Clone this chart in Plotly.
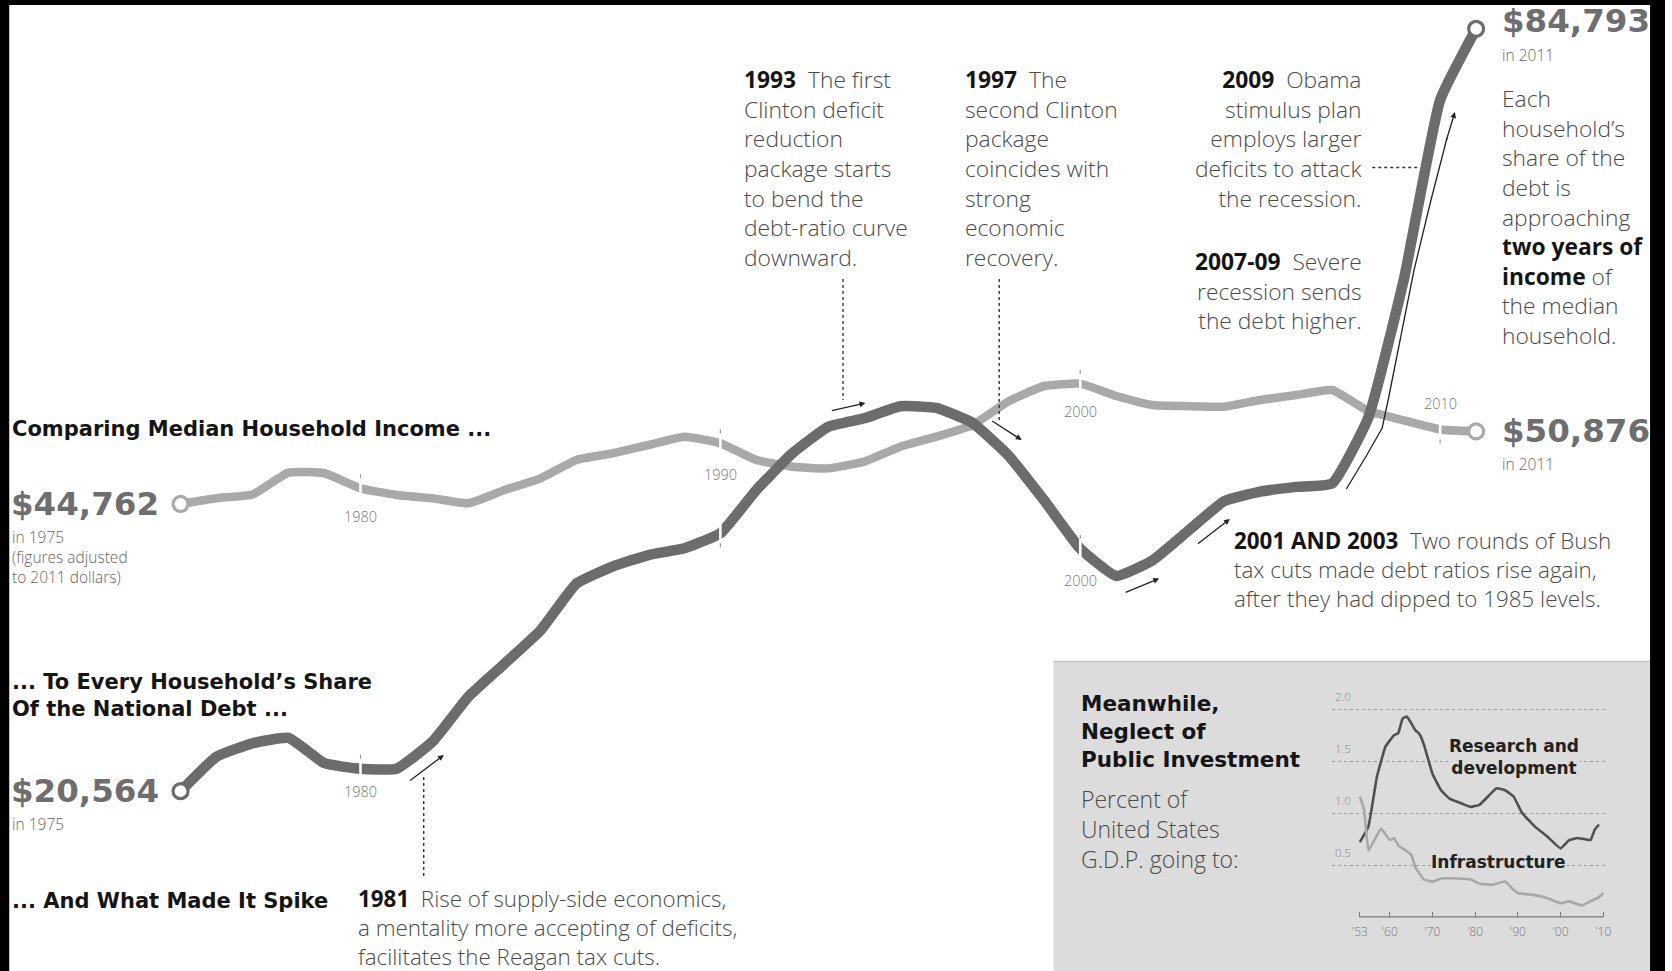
import plotly.graph_objects as go

W, H = 1672, 971

# ---------------------------------------------------------------- data
years = list(range(1975, 2012))
median_income = [44762, 45250, 45560, 47400, 47350, 46080, 45520, 45240, 44820, 45940,
                 46920, 48470, 49030, 49730, 50430, 49870, 48470, 47900, 47760, 48330,
                 49590, 50430, 51410, 53400, 54700, 54900, 53860, 53100, 53000, 52960,
                 53520, 53940, 54360, 52600, 51800, 51040, 50876]
debt_share = [20564, 23470, 24600, 25050, 22920, 22450, 22450, 24740, 28530, 31300,
              34100, 38050, 39480, 40460, 41030, 42290, 45940, 49030, 51270, 51980,
              53000, 52850, 51600, 48850, 45050, 41000, 38700, 40000, 42500, 45000,
              45800, 46200, 46500, 52000, 63800, 78800, 84793]
income_decades = [1980, 1990, 2000, 2010]
debt_decades = [1980, 1990, 2000]

# inset: share of G.D.P.
rd_years = [1953, 1955, 1957, 1959, 1961, 1962, 1963, 1964, 1966, 1967, 1968, 1970,
            1972, 1974, 1977, 1979, 1981, 1983, 1985, 1987, 1989, 1991, 1994, 1997,
            2000, 2002, 2004, 2007, 2008, 2009]
rd_share = [0.72, 0.87, 1.35, 1.64, 1.75, 1.77, 1.91, 1.93, 1.80, 1.76, 1.66, 1.38,
            1.22, 1.14, 1.09, 1.06, 1.08, 1.16, 1.24, 1.22, 1.16, 1.00, 0.87, 0.77,
            0.66, 0.74, 0.76, 0.74, 0.84, 0.89]
infra_years = [1953, 1954, 1955, 1956, 1958, 1960, 1961, 1962, 1965, 1966, 1968, 1970,
               1972, 1976, 1979, 1981, 1984, 1987, 1989, 1990, 1994, 1997, 2000, 2002,
               2005, 2007, 2009, 2010]
infra_share = [1.16, 1.03, 0.64, 0.71, 0.85, 0.74, 0.76, 0.69, 0.60, 0.48, 0.36, 0.34,
               0.37, 0.37, 0.36, 0.32, 0.31, 0.34, 0.26, 0.23, 0.21, 0.18, 0.13, 0.15,
               0.11, 0.15, 0.19, 0.23]
inset_tick_years = [1953, 1960, 1970, 1980, 1990, 2000, 2010]
inset_tick_text = ["'53", "'60", "'70", "'80", "'90", "'00", "'10"]
inset_grid = [0.5, 1.0, 1.5, 2.0]

# ---------------------------------------------------------------- styling
HEAD = "DejaVu Sans"
BODY = "Open Sans"
INK = "#151515"
TEXT = "#4a4a4a"
INCOME_GREY = "#a9a9a9"
DEBT_GREY = "#6c6c6c"
NUM_GREY = "#6e6e6e"
PANEL = "#dcdcdc"

X_RANGE = [1969.983, 2016.248]
Y_RANGE = [5417, 87219]
DPP = (Y_RANGE[1] - Y_RANGE[0]) / H       # dollars per screen pixel


def px(x):
    return x / W


def py(y):
    return 1 - y / H


def note(x, y, text, size, color=TEXT, family=BODY, weight=300,
         xanchor="left", yanchor="middle", align="left", bg=None):
    d = dict(xref="paper", yref="paper", x=px(x), y=py(y), text=text,
             showarrow=False, xanchor=xanchor, yanchor=yanchor, align=align,
             font=dict(family=family, size=size, color=color, weight=weight),
             borderpad=0)
    if bg:
        d["bgcolor"] = bg
    return d


def arrow(x0, y0, x1, y1):
    return dict(xref="paper", yref="paper", x=px(x1), y=py(y1), ax=x0 - x1, ay=y0 - y1,
                axref="pixel", ayref="pixel", text="", showarrow=True,
                arrowhead=2, arrowsize=0.9, arrowwidth=1.3, arrowcolor="#222",
                standoff=0, startstandoff=0)


def dotted(x0, y0, x1, y1):
    return dict(type="line", xref="paper", yref="paper", x0=px(x0), y0=py(y0),
                x1=px(x1), y1=py(y1), line=dict(color="#333", width=1.4, dash="dot"),
                layer="above")


def year_word(yr):
    return f'<span style="color:{INK}"><b>{yr}</b></span>\u00a0\u00a0'


fig = go.Figure()

# ---------------------------------------------------------------- main lines
fig.add_trace(go.Scatter(x=years, y=median_income, mode="lines", hoverinfo="skip",
                         line=dict(color=INCOME_GREY, width=8.5, shape="spline", smoothing=0.4)))
fig.add_trace(go.Scatter(x=years, y=debt_share, mode="lines", hoverinfo="skip",
                         line=dict(color=DEBT_GREY, width=10.5, shape="spline", smoothing=0.4)))
for series, colour in ((median_income, INCOME_GREY), (debt_share, DEBT_GREY)):
    fig.add_trace(go.Scatter(x=[years[0], years[-1]], y=[series[0], series[-1]],
                             mode="markers", hoverinfo="skip",
                             marker=dict(symbol="circle", size=15, color="white",
                                         line=dict(color=colour, width=3.2))))

# ---------------------------------------------------------------- inset lines
fig.add_trace(go.Scatter(x=rd_years, y=rd_share, xaxis="x3", yaxis="y3", mode="lines",
                         hoverinfo="skip",
                         line=dict(color="#505050", width=2.6, shape="spline", smoothing=0.3)))
fig.add_trace(go.Scatter(x=infra_years, y=infra_share, xaxis="x3", yaxis="y3", mode="lines",
                         hoverinfo="skip",
                         line=dict(color="#a8a8a8", width=2.6, shape="spline", smoothing=0.3)))

shapes = []
annotations = []

# decade breaks in the two main lines, with their small ticks and year labels
def decade_break(series, yr, tick_side, label_shift):
    v = series[years.index(yr)]
    shapes.append(dict(type="line", xref="x", yref="y", x0=yr, x1=yr,
                       y0=v - 13 * DPP, y1=v + 13 * DPP,
                       line=dict(color="white", width=2.6), layer="above"))
    shapes.append(dict(type="line", xref="x", yref="y", x0=yr, x1=yr,
                       y0=v + tick_side * 10 * DPP, y1=v + tick_side * 14 * DPP,
                       line=dict(color="#9a9a9a", width=1.2), layer="above"))
    if label_shift:
        annotations.append(dict(xref="x", yref="y", x=yr, y=v, yshift=label_shift,
                                text=str(yr), showarrow=False, xanchor="center",
                                yanchor="middle",
                                font=dict(family=BODY, size=14.5, color="#777", weight=300)))


income_label_shift = {1980: -28, 1990: -31, 2000: -28, 2010: 26}
for yr in income_decades:
    decade_break(median_income, yr, 1 if yr != 2010 else -1, income_label_shift[yr])
debt_label_shift = {1980: -23, 1990: 0, 2000: -32}
for yr in debt_decades:
    decade_break(debt_share, yr, -1 if yr == 1990 else 1, debt_label_shift[yr])

# end values
annotations += [
    dict(xref="x", yref="y", x=years[0], y=median_income[0], xshift=-20,
         text=f"${median_income[0]:,}", showarrow=False, xanchor="right", yanchor="middle",
         font=dict(family=HEAD, size=32.5, color=NUM_GREY, weight="bold")),
    dict(xref="x", yref="y", x=years[0], y=debt_share[0], xshift=-20,
         text=f"${debt_share[0]:,}", showarrow=False, xanchor="right", yanchor="middle",
         font=dict(family=HEAD, size=32.5, color=NUM_GREY, weight="bold")),
    dict(xref="x", yref="y", x=years[-1], y=debt_share[-1], xshift=24, yshift=8,
         text=f"${debt_share[-1]:,}", showarrow=False, xanchor="left", yanchor="middle",
         font=dict(family=HEAD, size=32.5, color=NUM_GREY, weight="bold")),
    dict(xref="x", yref="y", x=years[-1], y=median_income[-1], xshift=24,
         text=f"${median_income[-1]:,}", showarrow=False, xanchor="left", yanchor="middle",
         font=dict(family=HEAD, size=32.5, color=NUM_GREY, weight="bold")),
]

# left-hand headings and small print
annotations += [
    note(11, 429, "Comparing Median Household Income ...", 21, INK, HEAD, "bold"),
    note(11, 695, "... To Every Household\u2019s Share<br>Of the National Debt ...", 21, INK, HEAD, "bold"),
    note(11, 901, "... And What Made It Spike", 21, INK, HEAD, "bold"),
    note(11, 557, "in 1975<br>(figures adjusted<br>to 2011 dollars)", 15.5, "#666"),
    note(11, 824, "in 1975", 15.5, "#666"),
    note(1507, 55, "in 2011", 15.5, "#666"),
    note(1507, 464, "in 2011", 15.5, "#666"),
]

# event notes
annotations += [
    note(746, 168, year_word(1993) + "The first<br>Clinton deficit<br>reduction<br>package starts"
         "<br>to bend the<br>debt-ratio curve<br>downward.", 22.8),
    note(968, 168, year_word(1997) + "The<br>second Clinton<br>package<br>coincides with"
         "<br>strong<br>economic<br>recovery.", 22.8),
    note(1369, 139, year_word(2009) + "Obama<br>stimulus plan<br>employs larger"
         "<br>deficits to attack<br>the recession.", 22.8, xanchor="right", align="right"),
    note(1369, 291, year_word("2007-09") + "Severe<br>recession sends<br>the debt higher.",
         22.8, xanchor="right", align="right"),
    note(1507, 217, "Each<br>household\u2019s<br>share of the<br>debt is<br>approaching"
         f'<br><span style="color:{INK}"><b>two years of</b></span>'
         f'<br><span style="color:{INK}"><b>income</b></span> of<br>the median<br>household.', 22.8),
    note(1238, 569, year_word("2001 AND 2003") + "Two rounds of Bush<br>tax cuts made debt ratios rise again,"
         "<br>after they had dipped to 1985 levels.", 22.4),
    note(359, 927, year_word(1981) + "Rise of supply-side economics,<br>a mentality more accepting of deficits,"
         "<br>facilitates the Reagan tax cuts.", 22.4),
]

# leaders and arrows
shapes += [
    dotted(846.6, 279, 846.6, 400),
    dotted(1003.4, 279, 1003.4, 420),
    dotted(425.5, 777, 425.5, 879),
    dotted(1378, 167.5, 1426, 167.5),
]
annotations += [
    arrow(834, 411, 869, 403),
    arrow(995, 420, 1026, 440),
    arrow(410.5, 781.6, 445.7, 755),
    arrow(1201.5, 545, 1235, 519),
    arrow(1129, 593, 1164, 578.5),
    arrow(1452, 142, 1461, 112),
]
stimulus_path = [(1352, 489), (1372, 456), (1388, 428), (1394, 400), (1400, 370),
                 (1420, 270), (1437, 200), (1450, 150), (1453, 138)]
shapes.append(dict(type="path", xref="paper", yref="paper",
                   path="M " + " L ".join(f"{px(a):.5f},{py(b):.5f}" for a, b in stimulus_path),
                   line=dict(color="#222", width=1.3), layer="above"))

# ---------------------------------------------------------------- inset panel
shapes += [
    dict(type="rect", xref="paper", yref="paper", x0=px(1058), x1=px(1660), y0=py(971), y1=py(661),
         fillcolor=PANEL, line=dict(width=0), layer="below"),
    dict(type="line", xref="paper", yref="paper", x0=px(1058), x1=px(1660), y0=py(661.5), y1=py(661.5),
         line=dict(color="#c6c6c6", width=1.5), layer="below"),
]
INSET_X = [1337.7 / W, 1611.3 / W]
INSET_Y = [(H - 916.9) / H, (H - 690) / H]
shapes.append(dict(type="line", xref="x3", yref="paper", x0=inset_tick_years[0], x1=inset_tick_years[-1],
                   y0=INSET_Y[0], y1=INSET_Y[0], line=dict(color="#7a7a7a", width=1.2), layer="above"))
for g in inset_grid:
    annotations.append(dict(xref="x3", yref="y3", x=1946.8, y=g, yshift=3, text=f"{g:.1f}",
                            showarrow=False, xanchor="left", yanchor="bottom",
                            font=dict(family=BODY, size=11.5, color="#888", weight=300)))
annotations += [
    note(1084.5, 731, "Meanwhile,<br>Neglect of<br>Public Investment", 21.5, INK, HEAD, "bold"),
    note(1084.5, 829, "Percent of<br>United States<br>G.D.P. going to:", 23),
    note(1520, 757, "Research and<br>development", 17, "#222", HEAD, "bold",
         xanchor="center", align="center", bg=PANEL),
    note(1505, 862, "Infrastructure", 17, "#222", HEAD, "bold", xanchor="center", bg=PANEL),
]

# ---------------------------------------------------------------- frame edges
shapes += [
    dict(type="rect", xref="paper", yref="paper", x0=0, x1=px(9.3), y0=0, y1=1,
         fillcolor="black", line=dict(width=0), layer="above"),
    dict(type="rect", xref="paper", yref="paper", x0=0, x1=1, y0=py(5), y1=1,
         fillcolor="black", line=dict(width=0), layer="above"),
    dict(type="rect", xref="paper", yref="paper", x0=px(1657), x1=1, y0=0, y1=1,
         fillcolor="black", line=dict(width=0), layer="above"),
]

fig.update_layout(
    width=W, height=H, margin=dict(l=0, r=0, t=0, b=0),
    paper_bgcolor="white", plot_bgcolor="rgba(0,0,0,0)", showlegend=False,
    xaxis=dict(domain=[0, 1], range=X_RANGE, visible=False, fixedrange=True),
    yaxis=dict(domain=[0, 1], range=Y_RANGE, visible=False, fixedrange=True),
    xaxis3=dict(domain=INSET_X, range=[1946.5, 2010.3], anchor="y3",
                tickvals=inset_tick_years, ticktext=inset_tick_text, ticks="inside",
                ticklen=5, tickcolor="#7a7a7a", tickwidth=1, ticklabelstandoff=6,
                tickfont=dict(family=BODY, size=12, color="#777", weight=300),
                showgrid=False, zeroline=False, showline=False, fixedrange=True),
    yaxis3=dict(domain=INSET_Y, range=[0, 2.186], anchor="x3", tickvals=inset_grid,
                showticklabels=False, ticks="", showgrid=True, gridcolor="#9a9a9a",
                griddash="dot", gridwidth=1, zeroline=False, showline=False, fixedrange=True),
    shapes=shapes, annotations=annotations,
)

fig.write_html("out.html")
